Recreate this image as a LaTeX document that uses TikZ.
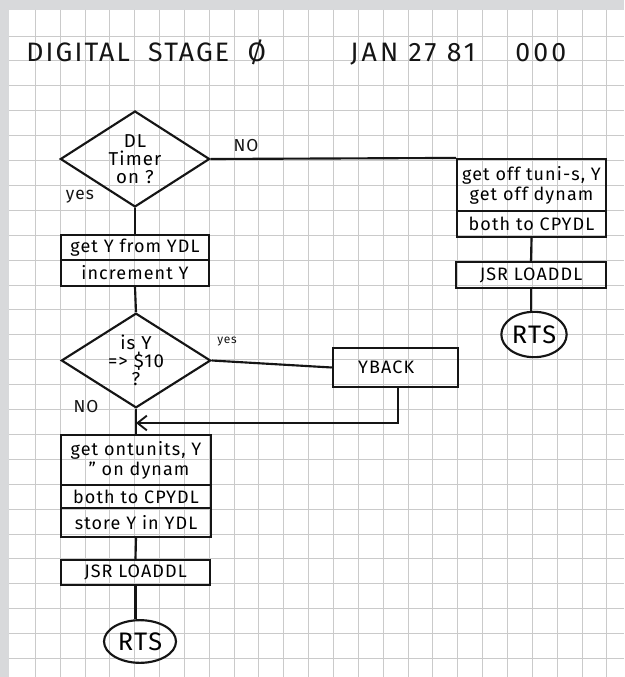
\documentclass[tikz,border=0pt]{standalone}
\usepackage{fontspec}
\setmainfont{Fira Sans}[LetterSpace=6]
\usetikzlibrary{shapes.geometric,arrows.meta}
\definecolor{pagegray}{HTML}{D8D9DB}
\definecolor{gridgray}{HTML}{CACACA}
\definecolor{ink}{HTML}{151515}
\tikzset{
  ink/.style={draw=ink,line width=1.6pt},
  boxa/.style={ink,rectangle,inner sep=0pt,minimum width=111.5pt,align=center,font=\fontsize{13.5}{15}\selectfont},
  dia/.style={ink,diamond,inner sep=-12pt,minimum width=112pt,minimum height=72pt,align=center,font=\fontsize{14}{13.5}\selectfont},
  oval/.style={ink,ellipse,inner sep=0pt,font=\fontsize{19}{20}\selectfont},
  conn/.style={draw=ink,line width=1.6pt},
  lab/.style={inner sep=0pt,font=\fontsize{13}{14}\selectfont,text=ink},
  ttl/.style={lab,anchor=base west,font=\fontsize{20}{22}\selectfont\addfontfeatures{LetterSpace=12}},
  gridline/.style={draw=gridgray,line width=0.7pt}
}
\begin{document}
\begin{tikzpicture}[x=0.75pt,y=-0.75pt]
\useasboundingbox (0,0) rectangle (624,677);
\fill[pagegray] (0,0) rectangle (624,677);
\fill[white] (9,10) rectangle (624,677);
\foreach \k in {0,...,23} \draw[gridline] ({35.3+24.85*\k},10) -- ({35.3+24.85*\k},677);
\foreach \k in {0,...,25} \draw[gridline] (9,{36+24.9*\k}) -- (624,{36+24.9*\k});

% title
\node[ttl,font=\fontsize{20}{22}\selectfont\addfontfeatures{LetterSpace=8}] (title) at (26,62) {DIGITAL\ \ STAGE\ \ Ø};
\node[ttl] (date) at (350,62) {JAN 27 81};
\node[ttl] (num) at (515,62) {000};

% left column
\node[dia] (d1) at (135,159) {DL\\Timer\\on ?};
\node[boxa,minimum height=18.75pt] (b1a) at (135,247.5) {get Y from YDL};
\node[boxa,minimum height=19.5pt] (b1b) at (135,273) {increment Y};
\node[dia,minimum height=71pt] (d2) at (136,360.5) {is Y\\=> \$10\\?};
\node[boxa,minimum width=112.5pt,minimum height=37.5pt] (b2a) at (136,460) {get ontunits, Y\\\,\,'' on dynam};
\node[boxa,minimum width=112.5pt,minimum height=17.25pt] (b2b) at (136,496.5) {both to CPYDL};
\node[boxa,minimum width=112.5pt,minimum height=21.75pt] (b2c) at (136,522.5) {store Y in YDL};
\node[boxa,minimum height=18.75pt] (jsr1) at (135.5,572.5) {JSR LOADDL};
\node[oval,minimum width=54pt,minimum height=32pt] (rts1) at (140,641.5) {RTS};

% right column
\node[boxa,minimum height=39pt] (r1a) at (531.5,185) {get off tuni-s, Y\\get off dynam};
\node[boxa,minimum height=19.5pt] (r1b) at (531.5,224) {both to CPYDL};
\node[boxa,minimum width=112.5pt,minimum height=19.5pt] (jsr2) at (531,275) {JSR LOADDL};
\node[oval,minimum width=49pt,minimum height=34pt] (rts2) at (534,334.5) {RTS};

% yback
\node[boxa,minimum width=94pt,minimum height=29pt] (yb) at (395.5,367.5) {YBACK\hspace*{14pt}};
\coordinate (merge) at (136,423);

% connectors
\draw[conn] (d1.east) -- (r1a.north west);
\draw[conn] (d1.south) -- (b1a.north);
\draw[conn] (b1b.south) -- (d2.north);
\draw[conn] (d2.east) -- (yb.west);
\draw[conn,-{Straight Barb[length=7pt,width=11pt,line width=1.4pt]}] ([xshift=2pt]yb.south) |- (merge);
\draw[conn] (d2.south) -- (b2a.north);
\draw[conn] (b2c.south) -- (jsr1.north);
\draw[conn] (jsr1.south) -- (jsr1.south |- rts1.north);
\draw[conn] (r1b.south) -- (jsr2.north);
\draw[conn] (jsr2.south) -- (jsr2.south |- rts2.north);

% labels
\node[lab] (no1) at (246,146) {NO};
\node[lab] (yes1) at (80,197) {yes};
\node[lab,font=\fontsize{9}{10}\selectfont] (yes2) at (227,342) {yes};
\node[lab] (no2) at (86,407) {NO};
\end{tikzpicture}
\end{document}
